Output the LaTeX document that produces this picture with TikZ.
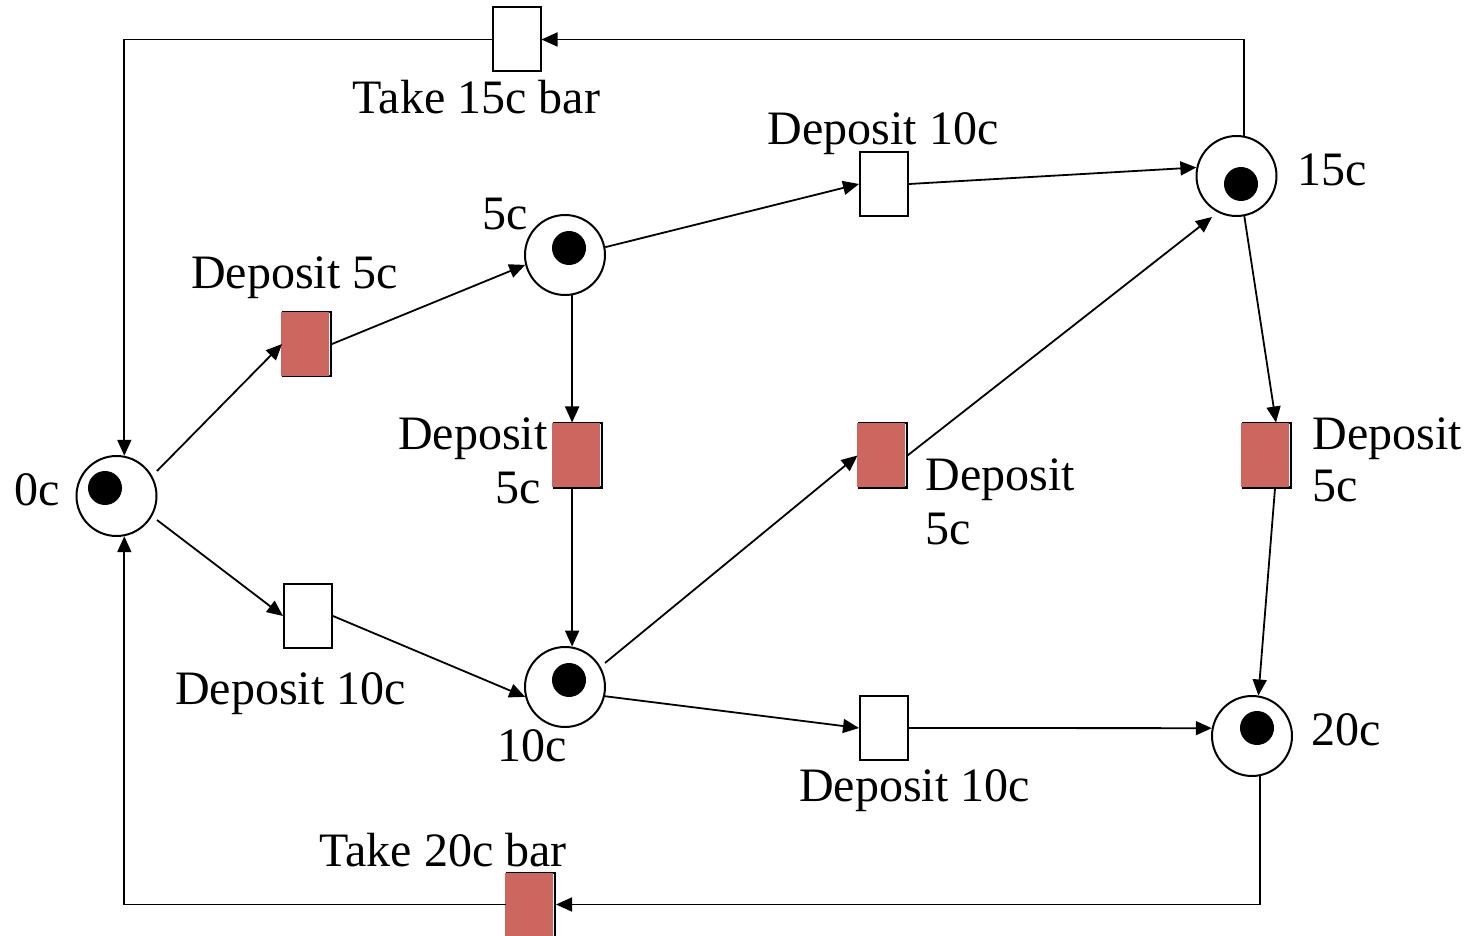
\documentclass[tikz,border=0pt]{standalone}
\usepackage{fontspec}
\setmainfont{Liberation Serif}
\usetikzlibrary{arrows.meta}
\definecolor{firered}{RGB}{205,102,94}
\tikzset{
  place/.style={circle,draw,line width=1pt,minimum size=40pt,inner sep=0pt},
  trans/.style={rectangle,draw,line width=1pt,minimum width=24pt,minimum height=32pt,inner sep=0pt,fill=white},
  arc/.style={line width=0.9pt,-{Triangle[length=8pt,width=7pt]}},
  lbl/.style={font=\fontsize{24}{28}\selectfont,inner sep=0pt},
}
% a token inside a place
\newcommand\petritoken[1]{\fill (#1) circle[radius=8.5pt];}
% shading of an enabled transition
\newcommand\firing[1]{\fill[firered] ([xshift=-0.5pt,yshift=0.5pt]#1.south west) rectangle ([xshift=-1.5pt,yshift=-0.5pt]#1.north east);}
\begin{document}
\begin{tikzpicture}[x=0.5pt,y=-0.5pt]
\fill[white] (0,0) rectangle (1474,936);
\useasboundingbox (0,0) rectangle (1474,936);

% places
\node[place] (p0)  at (116.5,496) {};
\node[place] (p5)  at (565,255)   {};
\node[place] (p10) at (565,687)   {};
\node[place] (p15) at (1236.5,176) {};
\node[place] (p20) at (1252,736)  {};
\petritoken{105,488}
\petritoken{569,248}
\petritoken{569,680}
\petritoken{1241,184}
\petritoken{1257,728}

% transitions
\node[trans] (t0) at (516.5,39.5) {};
\node[trans] (t1) at (307,344)    {};
\node[trans] (t2) at (884,184)    {};
\node[trans] (t3) at (578,455.5)  {};
\node[trans] (t4) at (308,616)    {};
\node[trans] (t5) at (882.5,455.5) {};
\node[trans] (t6) at (884,728)    {};
\node[trans] (t7) at (1267,455.5) {};
\node[trans] (t8) at (531,904.5)  {};
\firing{t1}
\firing{t3}
\firing{t5}
\firing{t7}
\firing{t8}

% arcs
\draw[arc] ([shift={(40.5,-25)}]p0.center) -- (t1.west);
\draw[arc] (t1.east) -- (p5.194);
\draw[arc] (p5.11) -- (t2.west);
\draw[arc] (t2.east) -- (p15.168);
\draw[arc] (p15.79) |- (t0.east);
\draw[arc] (t0.west) -| (p0.79);
\draw[arc] ([shift={(40.5,24)}]p0.center) -- (t4.west);
\draw[arc] (t4.east) -- (p10.194);
\draw[arc] (p5.-80) -- (p5.-80 |- t3.north);
\draw[arc] (p10.80 |- t3.south) -- (p10.80);
\draw[arc] ([shift={(40,-24)}]p10.center) -- (t5.west);
\draw[arc] (t5.east) -- ([shift={(-24.5,41)}]p15.center);
\draw[arc] (p10.-13) -- (t6.west);
\draw[arc] (t6.east) -- (p20.169);
\draw[arc] (p15.-79) -- ([xshift=4.5pt]t7.north);
\draw[arc] ([xshift=4pt]t7.south) -- (p20.81);
\draw[arc] (p20.-79) |- (t8.east);
\draw[arc] (t8.west) -| (p0.-79);

% labels
\node[lbl,anchor=base] (l0)  at (476.5,114) {Take 15c bar};
\node[lbl,anchor=base] (l1)  at (883,145)   {Deposit 10c};
\node[lbl,anchor=base] (l2)  at (1332,186)  {15c};
\node[lbl,anchor=base] (l3)  at (505.5,230) {5c};
\node[lbl,anchor=base] (l4)  at (294.5,289) {Deposit 5c};
\node[lbl,anchor=base] (l5)  at (37.5,505)  {0c};
\node[lbl,anchor=base east] (l6a) at (548,450) {Deposit};
\node[lbl,anchor=base east] (l6b) at (541,503) {5c};
\node[lbl,anchor=base west] (l7a) at (925,490) {Deposit};
\node[lbl,anchor=base west] (l7b) at (925,545) {5c};
\node[lbl,anchor=base west] (l8a) at (1312,450) {Deposit};
\node[lbl,anchor=base west] (l8b) at (1312,502) {5c};
\node[lbl,anchor=base] (l9)  at (290.5,704) {Deposit 10c};
\node[lbl,anchor=base] (l10) at (532.5,761) {10c};
\node[lbl,anchor=base] (l11) at (914.5,801) {Deposit 10c};
\node[lbl,anchor=base] (l12) at (1346.5,745) {20c};
\node[lbl,anchor=base] (l13) at (443,866)   {Take 20c bar};
\end{tikzpicture}
\end{document}
